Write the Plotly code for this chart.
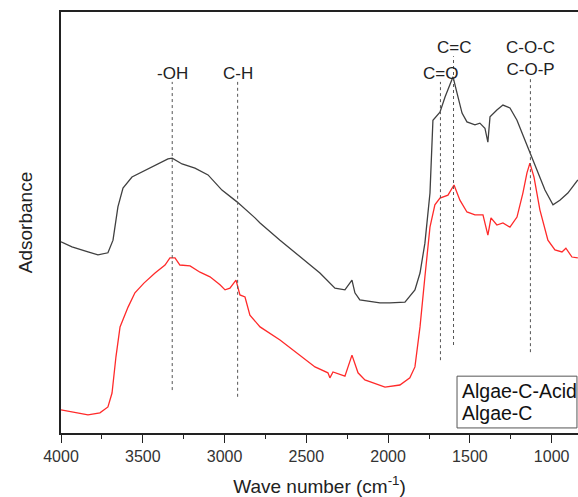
import plotly.graph_objects as go

# Algae-C-Acid (upper, dark grey)
acid_wn = [4000, 3933, 3835, 3774, 3713, 3682, 3652, 3621, 3566, 3505, 3425, 3346, 3320,
           3260, 3181, 3101, 3016, 2924, 2814, 2783, 2661, 2539, 2417, 2325, 2264, 2221,
           2203, 2173, 2050, 1989, 1897, 1836, 1805, 1775, 1744, 1726, 1707, 1683, 1652,
           1621, 1603, 1579, 1548, 1518, 1469, 1439, 1408, 1390, 1377, 1335, 1298, 1255,
           1212, 1176, 1133, 1090, 1041, 992, 950, 901, 858, 840]
acid_abs = [0.454, 0.442, 0.430, 0.423, 0.428, 0.458, 0.537, 0.582, 0.608, 0.620, 0.637, 0.651, 0.653,
            0.639, 0.629, 0.613, 0.577, 0.549, 0.511, 0.499, 0.458, 0.418, 0.380, 0.344, 0.340, 0.363,
            0.333, 0.316, 0.309, 0.309, 0.311, 0.340, 0.380, 0.451, 0.570, 0.743, 0.751, 0.762, 0.798,
            0.831, 0.846, 0.808, 0.760, 0.739, 0.732, 0.736, 0.724, 0.691, 0.751, 0.767, 0.779, 0.772,
            0.743, 0.708, 0.667, 0.625, 0.577, 0.542, 0.553, 0.570, 0.594, 0.601]

# Algae-C (lower, red)
c_wn = [4000, 3914, 3835, 3762, 3713, 3688, 3664, 3639, 3590, 3548, 3493, 3425, 3364, 3334,
        3303, 3273, 3211, 3150, 3089, 3028, 2997, 2967, 2930, 2906, 2875, 2845, 2783, 2661,
        2539, 2447, 2368, 2356, 2337, 2264, 2221, 2184, 2142, 2019, 1928, 1867, 1836, 1805,
        1775, 1744, 1714, 1683, 1634, 1597, 1561, 1518, 1469, 1420, 1390, 1371, 1335, 1298,
        1255, 1212, 1176, 1151, 1133, 1108, 1072, 1023, 980, 937, 913, 876, 840]
c_abs = [0.055, 0.048, 0.043, 0.048, 0.062, 0.095, 0.181, 0.252, 0.299, 0.333, 0.356, 0.380, 0.399, 0.416,
         0.416, 0.399, 0.397, 0.382, 0.371, 0.352, 0.340, 0.344, 0.363, 0.328, 0.323, 0.280, 0.252, 0.221,
         0.185, 0.157, 0.143, 0.131, 0.145, 0.135, 0.185, 0.143, 0.126, 0.109, 0.114, 0.131, 0.157, 0.252,
         0.371, 0.489, 0.542, 0.558, 0.565, 0.589, 0.553, 0.525, 0.518, 0.518, 0.470, 0.511, 0.494, 0.499,
         0.489, 0.513, 0.570, 0.618, 0.641, 0.608, 0.530, 0.458, 0.435, 0.430, 0.439, 0.418, 0.416]

# band assignments
band_wn = [3320, 2920, 1680, 1600, 1130]
band_labels = ["-OH", "C-H", "C=O", "C=C", "C-O-C<br>C-O-P"]
band_top = [0.834, 0.834, 0.834, 0.895, 0.843]
band_bottom = [0.102, 0.086, 0.173, 0.209, 0.192]

series_names = ["Algae-C-Acid", "Algae-C"]

fig = go.Figure()
fig.add_trace(go.Scatter(x=acid_wn, y=acid_abs, mode='lines', name=series_names[0],
                         line=dict(color='#404040', width=1.3), showlegend=False))
fig.add_trace(go.Scatter(x=c_wn, y=c_abs, mode='lines', name=series_names[1],
                         line=dict(color='#ff2a2a', width=1.3), showlegend=False))

for wn, top, bot in zip(band_wn, band_top, band_bottom):
    fig.add_shape(type='line', xref='x', yref='y', x0=wn, x1=wn, y0=bot, y1=top,
                  line=dict(color='#555555', width=1, dash='dot'))

for wn, lab, top in zip(band_wn, band_labels, band_top):
    fig.add_annotation(x=wn, y=top, xref='x', yref='y', text=lab, showarrow=False,
                       yanchor='bottom', yshift=-3, font=dict(size=17, color='#222222'))

# legend box (text only, no symbols, like the original)
fig.add_shape(type='rect', xref='paper', yref='paper', x0=0.766, x1=0.998, y0=0.012, y1=0.135,
              line=dict(color='#555555', width=1), fillcolor='white', layer='above')
for name, ypos in zip(series_names, [0.0998, 0.0475]):
    fig.add_annotation(xref='paper', yref='paper', x=0.771, y=ypos, xanchor='left', yanchor='middle',
                       text=name, showarrow=False, font=dict(size=19.5, color='#111111'))

fig.update_layout(
    width=578, height=497,
    margin=dict(l=61, r=0, t=12, b=64),
    paper_bgcolor='white', plot_bgcolor='white',
    font=dict(family='Liberation Sans, Arial, sans-serif', color='#222222'),
    xaxis=dict(range=[4000, 839], showgrid=False, zeroline=False, automargin=False,
               showline=True, linecolor='#222222', linewidth=1.5, mirror=True,
               ticks='outside', ticklen=8, tickwidth=1.3, tickcolor='#222222', dtick=500,
               minor=dict(ticks='outside', ticklen=4, dtick=250, tickcolor='#222222'),
               tickfont=dict(size=16, color='#333333'),
               title=dict(text='Wave number (cm<sup>-1</sup>)', font=dict(size=19), standoff=17)),
    yaxis=dict(range=[0, 1], showgrid=False, zeroline=False, showticklabels=False, automargin=False,
               showline=True, linecolor='#222222', linewidth=1.5, ticks='',
               title=dict(text='Adsorbance', font=dict(size=19), standoff=22)),
)

fig.write_html("out.html", config={'displayModeBar': False},
               post_script="document.body.style.margin='0';")
